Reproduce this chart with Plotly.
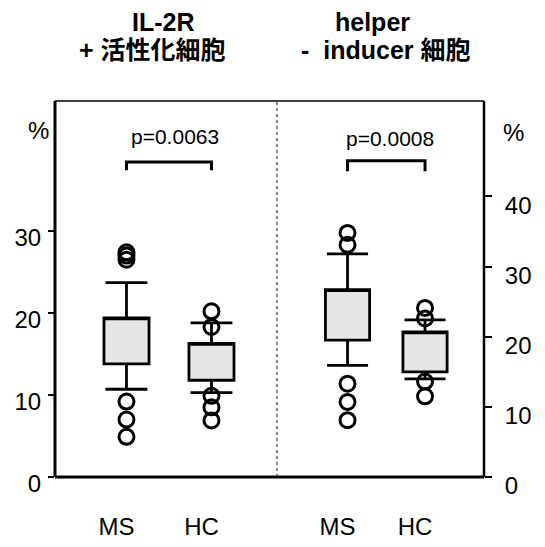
import plotly.graph_objects as go

# ---- data ----
groups = ["MS", "HC"]
group_pos = [0, 1]

# IL-2R+ activated cells (left axis, %)
il2r_q1 = [13.8, 11.8]
il2r_q3 = [19.4, 16.3]
il2r_med = [19.4, 16.3]          # median line not drawn in the original -> hidden on the box edge
il2r_low = [10.7, 10.3]
il2r_high = [23.7, 18.8]
il2r_out_ms = [27.4, 27.0, 26.5, 9.2, 7.0, 4.9]
il2r_out_hc = [20.2, 18.3, 9.9, 8.5, 6.9]
il2r_p = "p=0.0063"

# helper-inducer cells (right axis, %)
hi_q1 = [19.5, 15.0]
hi_q3 = [26.7, 20.7]
hi_med = [26.7, 20.7]
hi_low = [15.9, 14.0]
hi_high = [31.8, 22.4]
hi_out_ms = [34.8, 33.1, 13.3, 10.7, 8.1]
hi_out_hc = [24.1, 22.6, 13.6, 11.5]
hi_p = "p=0.0008"

left_ticks = [0, 10, 20, 30]
right_ticks = [0, 10, 20, 30, 40]
bracket_left = [37.4, 38.4]
bracket_right = [43.6, 45.1]

FONT = "Liberation Sans, Arial, Noto Sans CJK JP"
BOXFILL = "#e6e6e6"

fig = go.Figure()

def add_panel(xa, ya, q1, med, q3, lo, hi, out_ms, out_hc, width, br, ptxt, pxy):
    fig.add_trace(go.Box(
        x=group_pos, q1=q1, median=med, q3=q3, lowerfence=lo, upperfence=hi,
        width=width, whiskerwidth=0.93, boxpoints=False,
        fillcolor=BOXFILL, line=dict(color="black", width=2.8),
        xaxis=xa, yaxis=ya, showlegend=False, hoverinfo="skip"))
    ox = [group_pos[0]] * len(out_ms) + [group_pos[1]] * len(out_hc)
    oy = list(out_ms) + list(out_hc)
    fig.add_trace(go.Scatter(
        x=ox, y=oy, mode="markers", xaxis=xa, yaxis=ya, showlegend=False,
        marker=dict(symbol="circle-open", size=15, color="black",
                    line=dict(width=3, color="black"))))
    fig.add_trace(go.Scatter(
        x=[group_pos[0], group_pos[0], group_pos[1], group_pos[1]],
        y=[br[0], br[1], br[1], br[0]], mode="lines", xaxis=xa, yaxis=ya,
        showlegend=False, line=dict(color="black", width=3)))
    fig.add_annotation(x=pxy[0], y=pxy[1], xref=xa, yref=ya, text=ptxt,
                       showarrow=False, font=dict(family=FONT, size=21, color="black"))

add_panel("x", "y", il2r_q1, il2r_med, il2r_q3, il2r_low, il2r_high,
          il2r_out_ms, il2r_out_hc, 0.53, bracket_left, il2r_p, (0.57, 41.5))
add_panel("x2", "y2", hi_q1, hi_med, hi_q3, hi_low, hi_high,
          hi_out_ms, hi_out_hc, 0.57, bracket_right, hi_p, (0.55, 48.3))

split = 222 / 429
tickfont = dict(family=FONT, size=24, color="black")

# the page body has an 8px margin, so the figure is sized to fit inside it
fig.update_layout(
    width=529, height=531,
    margin=dict(l=47, r=53, t=93, b=62, autoexpand=False),
    paper_bgcolor="white", plot_bgcolor="white",
    font=dict(family=FONT, color="black"),
    xaxis=dict(domain=[0, split], range=[-0.841, 1.771], tickvals=group_pos,
               ticktext=groups, ticks="", showgrid=False, zeroline=False,
               showline=False, tickfont=tickfont, anchor="y", automargin=False,
               ticklabelshift=-10, ticklabelstandoff=33),
    xaxis2=dict(domain=[split, 1], range=[-0.910, 1.761], tickvals=group_pos,
                ticktext=groups, ticks="", showgrid=False, zeroline=False,
                showline=False, tickfont=tickfont, anchor="y2", automargin=False,
                ticklabelshift=-10, ticklabelstandoff=33),
    yaxis=dict(range=[0, 45.85], tickvals=left_ticks, ticks="outside",
               ticklen=6, tickwidth=2, tickcolor="black", showgrid=False,
               zeroline=False, showline=False, tickfont=tickfont, anchor="x",
               automargin=False, ticklabelstandoff=2, ticklabelshift=7),
    yaxis2=dict(range=[0, 53.6], tickvals=right_ticks, ticks="outside",
                ticklen=7, tickwidth=2, tickcolor="black", showgrid=False,
                zeroline=False, showline=False, tickfont=tickfont, anchor="free",
                side="right", position=1.0, automargin=False,
                ticklabelstandoff=8, ticklabelshift=9),
)

# frame and divider
frame = [
    dict(x0=0, x1=1, y0=1, y1=1, w=1.5),
    dict(x0=0, x1=1, y0=0, y1=0, w=3),
    dict(x0=0, x1=0, y0=0, y1=1, w=3),
    dict(x0=1, x1=1, y0=0, y1=1, w=2.5),
]
for f in frame:
    fig.add_shape(type="line", xref="paper", yref="paper", x0=f["x0"], x1=f["x1"],
                  y0=f["y0"], y1=f["y1"], line=dict(color="black", width=f["w"]))
fig.add_shape(type="line", xref="paper", yref="paper", x0=split, x1=split, y0=0, y1=1,
              line=dict(color="#333333", width=1.2, dash="dot"))

# titles and unit labels (paper coords from page pixels: plot area x 55..484, y 101..477)
def px(xp):
    return (xp - 55) / 429
def py(yp):
    return (477 - yp) / 376

titles = [
    ("IL-2R", 163, 22),
    ("+\u00a0活性化細胞", 152, 50),
    ("helper", 372, 22),
    ("-\u00a0\u00a0inducer 細胞", 385, 50),
]
for t, xx, yy in titles:
    fig.add_annotation(x=px(xx), y=py(yy), xref="paper", yref="paper", text="<b>" + t + "</b>",
                       showarrow=False, xanchor="center", yanchor="middle",
                       font=dict(family=FONT, size=25, color="black"))
for xx, yy in [(38, 130), (513, 132)]:
    fig.add_annotation(x=px(xx), y=py(yy), xref="paper", yref="paper", text="%",
                       showarrow=False, xanchor="center", yanchor="middle",
                       font=dict(family=FONT, size=24, color="black"))

fig.write_html("out.html")
